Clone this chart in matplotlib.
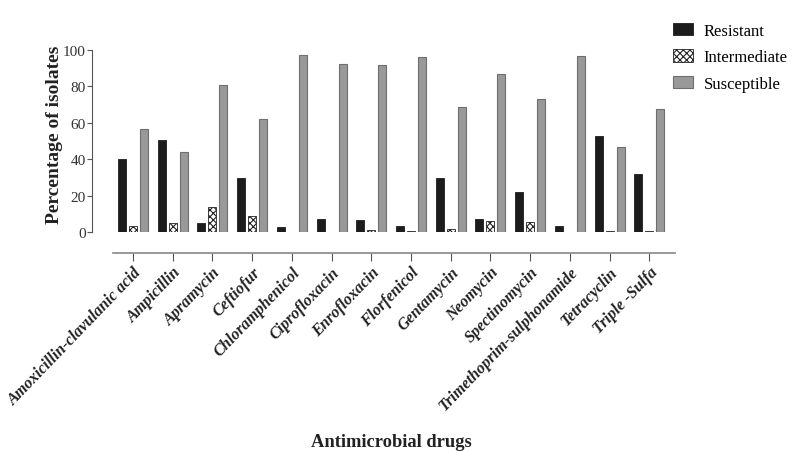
import numpy as np
import matplotlib
matplotlib.use("Agg")
import matplotlib.pyplot as plt

plt.rcParams['font.family'] = ['Liberation Serif', 'DejaVu Serif']
plt.rcParams['hatch.linewidth'] = 0.8

drugs = ['Amoxicillin-clavulanic acid', 'Ampicillin', 'Apramycin', 'Ceftiofur',
         'Chloramphenicol', 'Ciprofloxacin', 'Enrofloxacin', 'Florfenicol',
         'Gentamycin', 'Neomycin', 'Spectinomycin', 'Trimethoprim-sulphonamide',
         'Tetracyclin', 'Triple -Sulfa']
resistant = [40, 50.5, 5, 29.5, 2.5, 7, 6.5, 3.5, 29.5, 7, 22, 3.5, 53, 32]
intermediate = [3.5, 5, 13.5, 9, 0, 0, 1, 0.5, 1.5, 6, 5.5, 0, 0.5, 0.5]
susceptible = [56.5, 44, 81, 62, 97, 92.5, 92, 96, 68.5, 87, 73, 96.5, 46.5, 67.5]

x = np.arange(len(drugs))
w = 0.2
step = 0.277

fig = plt.figure(figsize=(8, 4.52), dpi=100)
ax = fig.add_axes([0.115, 0.4845, 0.729, 0.4027])

ax.bar(x - step, resistant, w, color='#1c1c1c', edgecolor='#1c1c1c', lw=0.6, label='Resistant')
ax.bar(x, intermediate, w, color='white', edgecolor='#222222', hatch='xxxxx', lw=0.6, label='Intermediate')
ax.bar(x + step, susceptible, w, color='#999999', edgecolor='#6e6e6e', lw=0.8, label='Susceptible')

ax.set_xlim(-1.03, 13.65)
ax.set_ylim(0, 100)
ax.set_yticks([0, 20, 40, 60, 80, 100])
ax.tick_params(axis='y', labelsize=11, length=3.5, width=0.8, color='#555555', pad=1,
               labelcolor='#333333')
ax.tick_params(axis='x', length=6, width=0.8, color='#555555', pad=2)

for s in ['top', 'right']:
    ax.spines[s].set_visible(False)
ax.spines['left'].set_color('#555555')
ax.spines['left'].set_linewidth(0.8)
ax.spines['bottom'].set_position(('outward', 15))
ax.spines['bottom'].set_bounds(-0.5, 13.65)
ax.spines['bottom'].set_color('#888888')
ax.spines['bottom'].set_linewidth(1.2)

ax.set_xticks(x)
ax.set_xticklabels(drugs, rotation=46, ha='right', rotation_mode='anchor',
                   fontsize=11.6, fontweight='bold', fontstyle='italic', color='#222222')

ax.set_ylabel('Percentage of isolates', fontsize=14, fontweight='bold', color='#222222')
ax.yaxis.set_label_coords(-0.05, 0.54)
fig.text(0.489, 0.022, 'Antimicrobial drugs', ha='center', va='center', fontsize=13.3,
         fontweight='bold', color='#222222')

ax.legend(loc='upper left', bbox_to_anchor=(0.841, 0.947), bbox_transform=fig.transFigure,
          frameon=False, fontsize=12, handlelength=1.2, handleheight=0.75,
          labelspacing=0.62, handletextpad=0.65, borderpad=0, borderaxespad=0)

fig.savefig('out.png', dpi=100)
